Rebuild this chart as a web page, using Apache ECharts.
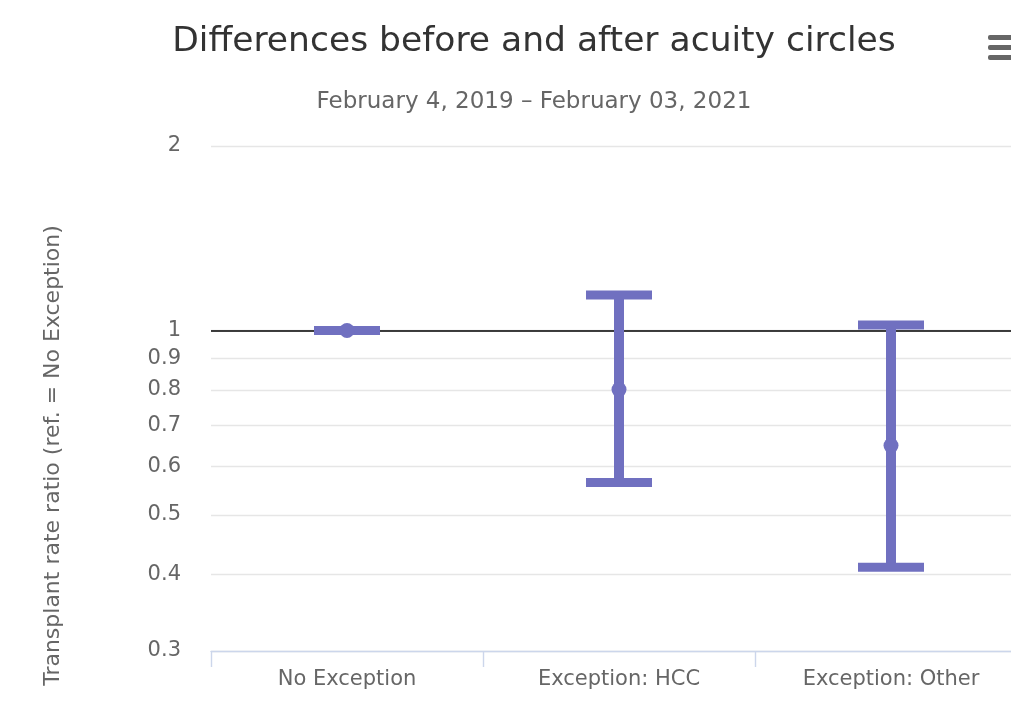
<!DOCTYPE html>
<html lang="en">
<head>
<meta charset="UTF-8">
<title>Differences before and after acuity circles</title>
<script src="https://cdn.jsdelivr.net/npm/echarts@6/dist/echarts.min.js"></script>
<style>
  html, body { margin: 0; padding: 0; background: #fff; }
  #main { width: 1011px; height: 712px; }
</style>
</head>
<body>
<div id="main"></div>
<script type="text/javascript">
// categories and values
var categories = ['No Exception', 'Exception: HCC', 'Exception: Other'];
var ratio = [1.0, 0.801, 0.649];
var lower = [1.0, 0.565, 0.411];
var upper = [1.0, 1.143, 1.021];
var yTicks = [0.3, 0.4, 0.5, 0.6, 0.7, 0.8, 0.9, 1, 2];

var barColor = '#7070c0';
var font = '"DejaVu Sans", sans-serif';

var myChart = echarts.init(document.getElementById('main'));

var errData = categories.map(function (c, i) { return [i, lower[i], upper[i]]; });

var option = {
    animation: false,
    textStyle: { fontFamily: font },
    title: [{
        text: 'Differences before and after acuity circles',
        left: 529, top: 20, textAlign: 'center',
        textStyle: { fontFamily: font, fontSize: 34.5, fontWeight: 'normal', color: '#333' }
    }, {
        text: 'February 4, 2019 – February 03, 2021',
        left: 529, top: 86, textAlign: 'center',
        textStyle: { fontFamily: font, fontSize: 23, fontWeight: 'normal', color: '#666' }
    }],
    grid: { left: 211, width: 816, top: 146, bottom: 61, containLabel: false, outerBoundsMode: 'none' },
    xAxis: {
        type: 'category',
        data: categories,
        axisLine: { lineStyle: { color: '#ccd6eb', width: 1.4 } },
        axisTick: { show: true, length: 16, lineStyle: { color: '#ccd6eb', width: 1.4 } },
        axisLabel: { color: '#666', fontSize: 21, margin: 18, fontFamily: font },
        splitLine: { show: false }
    },
    yAxis: {
        type: 'log',
        logBase: 10,
        min: 0.3,
        max: 2,
        name: 'Transplant rate ratio (ref. = No Exception)',
        nameLocation: 'middle',
        nameGap: 147,
        nameTextStyle: { color: '#666', fontSize: 22, fontFamily: font, padding: [0, 114, 0, 0] },
        axisLine: { show: false },
        axisTick: { show: false, customValues: yTicks },
        axisLabel: {
            color: '#666', fontSize: 21, margin: 30, fontFamily: font,
            lineHeight: 26, padding: [5, 0, 0, 0],
            customValues: yTicks,
            formatter: function (v) { return String(Math.round(v * 10) / 10); }
        },
        splitLine: { show: true, lineStyle: { color: '#e6e6e6', width: 1.4 } }
    },
    graphic: [
        { type: 'rect', left: 988, top: 35, shape: { width: 30, height: 5, r: 2 }, style: { fill: '#666' } },
        { type: 'rect', left: 988, top: 45, shape: { width: 30, height: 5, r: 2 }, style: { fill: '#666' } },
        { type: 'rect', left: 988, top: 55, shape: { width: 30, height: 5, r: 2 }, style: { fill: '#666' } }
    ],
    series: [{
        // reference line at ratio 1
        type: 'line',
        data: [],
        z: 1,
        markLine: {
            silent: true,
            symbol: 'none',
            label: { show: false },
            lineStyle: { color: '#000', width: 1.5, type: 'solid' },
            data: [{ yAxis: 1 }]
        }
    }, {
        name: 'interval',
        type: 'custom',
        z: 5,
        data: errData,
        renderItem: function (params, api) {
            var i = api.value(0);
            var hi = api.coord([i, api.value(2)]);
            var lo = api.coord([i, api.value(1)]);
            var capW = 66, capH = 9, stem = 10;
            return {
                type: 'group',
                children: [{
                    type: 'rect',
                    shape: { x: hi[0] - stem / 2, y: hi[1], width: stem, height: lo[1] - hi[1] },
                    style: { fill: barColor }
                }, {
                    type: 'rect',
                    shape: { x: hi[0] - capW / 2, y: hi[1] - capH / 2, width: capW, height: capH },
                    style: { fill: barColor }
                }, {
                    type: 'rect',
                    shape: { x: lo[0] - capW / 2, y: lo[1] - capH / 2, width: capW, height: capH },
                    style: { fill: barColor }
                }]
            };
        }
    }, {
        name: 'ratio',
        type: 'scatter',
        z: 6,
        symbol: 'circle',
        symbolSize: 15,
        itemStyle: { color: barColor, opacity: 1 },
        data: ratio
    }]
};
myChart.setOption(option);
</script>
</body>
</html>
